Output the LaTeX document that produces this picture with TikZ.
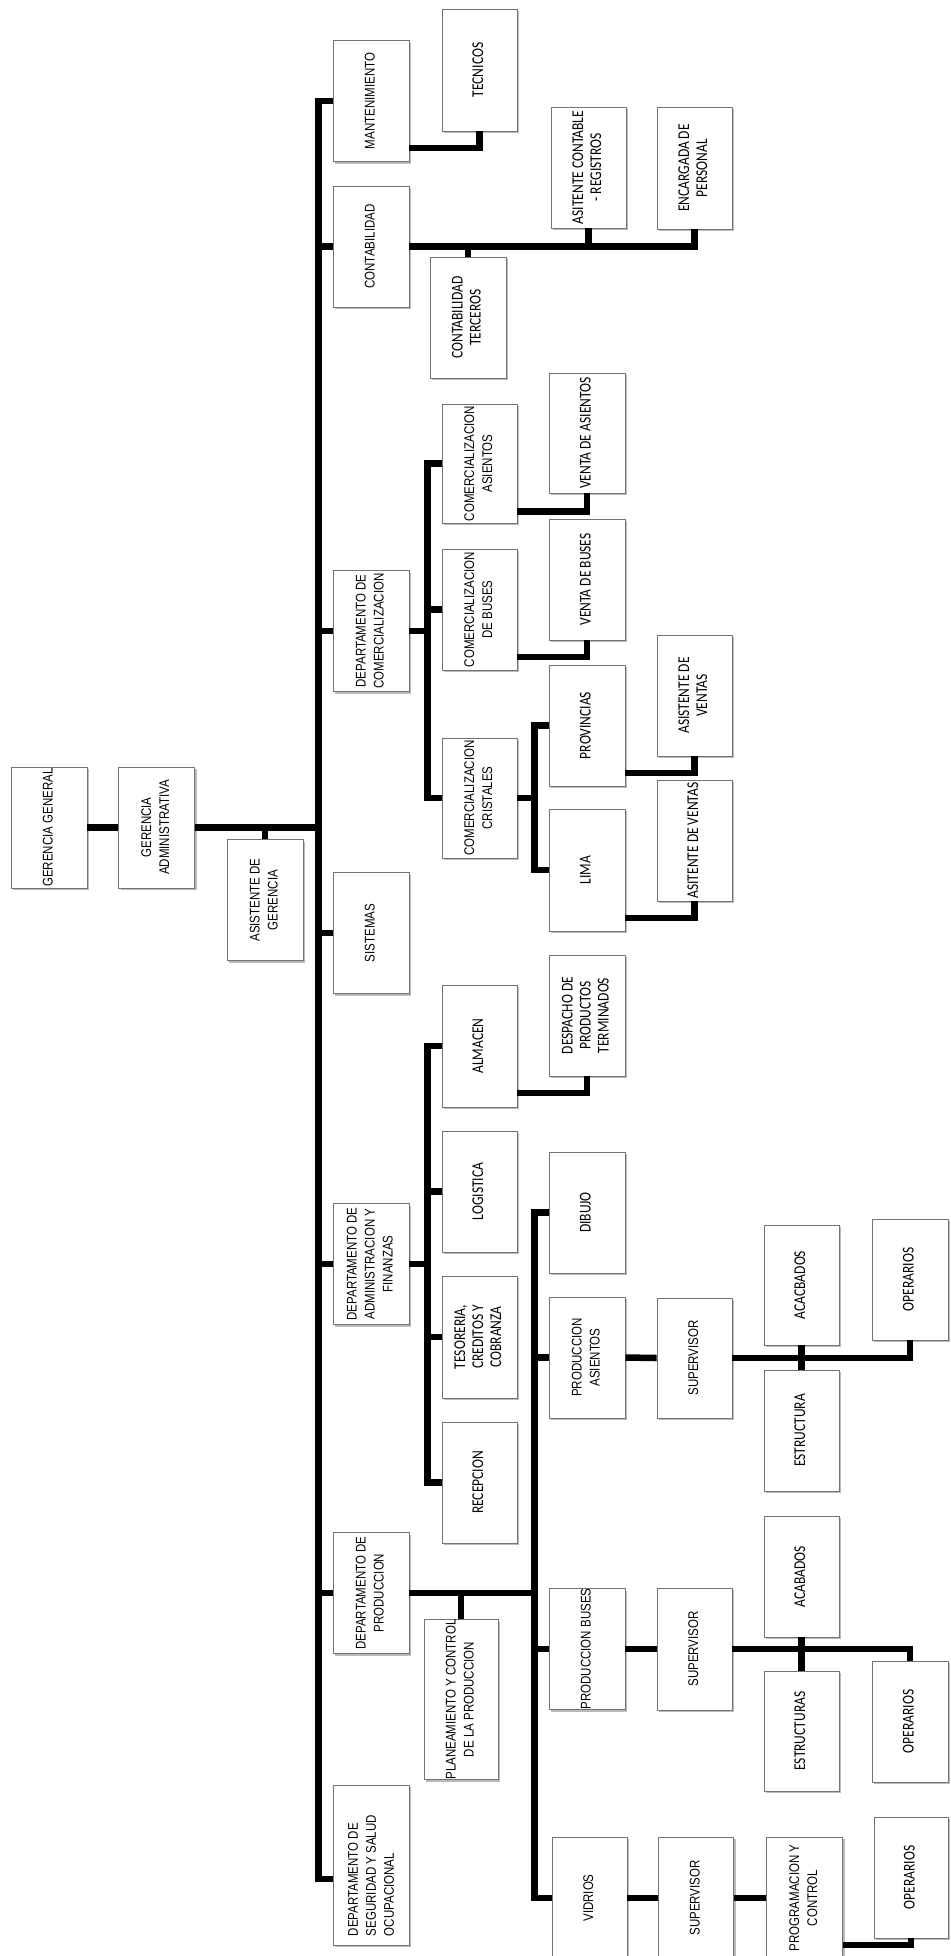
\documentclass[tikz,border=0pt]{standalone}
\usepackage{fontspec}
\setmainfont{Liberation Sans}
\newfontfamily\calib{Carlito}
\usetikzlibrary{shadows}
\newcommand\rt[1]{\rotatebox{90}{\scalebox{1}[1.22]{\begin{tabular}{@{}c@{}}#1\end{tabular}}}}
\begin{document}
\begin{tikzpicture}[x=1pt,y=-1pt,
  box/.style={draw=black!55, line width=0.9pt, fill=white, minimum width=76pt,
    minimum height=121pt, inner sep=0pt, anchor=center,
    font=\fontsize{11.5}{14.8}\selectfont,
    drop shadow={shadow xshift=2.2pt, shadow yshift=-2.2pt, fill=black!45, opacity=0.6}},
  cbox/.style={box, font=\calib\fontsize{13.5}{14.8}\selectfont},
  conn/.style={line width=6.5pt, line join=miter, black}]
\useasboundingbox (0,0) rectangle (950,1956);
\fill[white] (0,0) rectangle (950,1956);

% level 0/1
\node[box] (gg) at (49,827.5) {\rt{GERENCIA GENERAL}};
\node[box] (ga) at (156.5,827.5) {\rt{GERENCIA\\ADMINISTRATIVA}};
\node[box] (ag) at (265,900) {\rt{ASISTENTE DE\\GERENCIA}};

% level 2
\node[box] (mant) at (371,101) {\rt{MANTENIMIENTO}};
\node[box] (cont) at (371,246.5) {\rt{CONTABILIDAD}};
\node[box] (dcom) at (371,631) {\rt{DEPARTAMENTO DE\\COMERCIALIZACION}};
\node[box] (sist) at (371,933) {\rt{SISTEMAS}};
\node[box] (daf) at (371,1264) {\rt{DEPARTAMENTO DE\\ADMINISTRACION Y\\FINANZAS}};
\node[box] (dprod) at (371,1593) {\rt{DEPARTAMENTO DE\\PRODUCCION}};
\node[box, minimum height=160pt] (dseg) at (371,1865)
  {\rotatebox{90}{\scalebox{1}[1.22]{\parbox{142pt}{\raggedright DEPARTAMENTO DE\\SEGURIDAD Y SALUD\\OCUPACIONAL}}}};

% mantenimiento / contabilidad
\node[cbox, minimum width=75pt, minimum height=122pt] (tec) at (479.5,70) {\rt{TECNICOS}};
\node[cbox] (cterc) at (468,317.5) {\rt{CONTABILIDAD\\TERCEROS}};
\node[cbox, minimum width=75pt] (asit) at (588.5,167.5) {\rt{ASITENTE CONTABLE\\- REGISTROS}};
\node[cbox, minimum width=75pt, minimum height=122pt] (enc) at (694.5,168) {\rt{ENCARGADA DE\\PERSONAL}};

% comercializacion
\node[box, minimum width=75pt, minimum height=119pt] (casi) at (479.5,463.5) {\rt{COMERCIALIZACION\\ASIENTOS}};
\node[box, minimum width=75pt] (cbus) at (479.5,609.5) {\rt{COMERCIALIZACION\\DE BUSES}};
\node[box, minimum width=75pt, minimum height=120pt] (ccri) at (479.5,798) {\rt{COMERCIALIZACION\\CRISTALES}};
\node[cbox, minimum height=120pt] (vasi) at (587,433) {\rt{VENTA DE ASIENTOS}};
\node[cbox] (vbus) at (587,579.5) {\rt{VENTA DE BUSES}};
\node[cbox] (prov) at (587,725.5) {\rt{PROVINCIAS}};
\node[cbox, minimum height=122pt] (lima) at (587,870) {\rt{LIMA}};
\node[cbox, minimum width=75pt] (asv1) at (694.5,695.5) {\rt{ASISTENTE DE\\VENTAS}};
\node[cbox, minimum width=75pt] (asv2) at (694.5,840.5) {\rt{ASITENTE DE VENTAS}};

% administracion y finanzas
\node[cbox, minimum width=75pt, minimum height=122pt] (alm) at (479.5,1046) {\rt{ALMACEN}};
\node[cbox, minimum width=75pt] (log) at (479.5,1191.5) {\rt{LOGISTICA}};
\node[cbox, minimum width=75pt, minimum height=122pt] (tes) at (479.5,1337) {\rt{TESORERIA,\\CREDITOS Y\\COBRANZA}};
\node[cbox, minimum width=75pt] (rec) at (479.5,1482.5) {\rt{RECEPCION}};
\node[cbox] (desp) at (587,1015.5) {\rt{DESPACHO DE\\PRODUCTOS\\TERMINADOS}};

% produccion
\node[box, minimum width=74pt, minimum height=159pt] (pcp) at (461,1699.5) {\rt{PLANEAMIENTO Y CONTROL\\DE LA PRODUCCION}};
\node[cbox] (dib) at (587,1212.5) {\rt{DIBUJO}};
\node[box] (pasi) at (587,1357.5) {\rt{PRODUCCION\\ASIENTOS}};
\node[box, minimum height=120pt] (pbus) at (587,1649) {\rt{PRODUCCION BUSES}};
\node[box, minimum width=75pt, minimum height=122pt] (vid) at (589.5,1898) {\rt{VIDRIOS}};
\node[box, minimum width=75pt, minimum height=120pt] (sup1) at (694.5,1358) {\rt{SUPERVISOR}};
\node[box, minimum width=75pt, minimum height=122pt] (sup2) at (694.5,1649) {\rt{SUPERVISOR}};
\node[box, minimum width=75pt, minimum height=122pt] (sup3) at (696,1898) {\rt{SUPERVISOR}};
\node[cbox, minimum width=75pt, minimum height=120pt] (acac) at (801.5,1285) {\rt{ACACBADOS}};
\node[cbox, minimum width=75pt] (estr) at (801.5,1430.5) {\rt{ESTRUCTURA}};
\node[cbox, minimum width=75pt] (acab) at (801.5,1576.5) {\rt{ACABADOS}};
\node[cbox, minimum width=75pt, minimum height=120pt] (estrs) at (801.5,1731) {\rt{ESTRUCTURAS}};
\node[box, minimum width=76pt, minimum height=122pt] (prog) at (804.5,1898) {\rt{PROGRAMACION Y\\CONTROL}};
\node[cbox] (op1) at (910,1279.5) {\rt{OPERARIOS}};
\node[cbox] (op2) at (910,1721.5) {\rt{OPERARIOS}};
\node[cbox, minimum width=74pt] (op3) at (911,1877.5) {\rt{OPERARIOS}};

% spines
\coordinate (mbot) at (318.5,1879);
\coordinate (cx) at (427.5,631);
\coordinate (lx) at (534.5,798);
\coordinate (ax) at (427.5,1264);
\coordinate (px) at (534.5,1593);

% main connectors
\draw[conn] (gg.east) -- (ga.west);
\draw[conn] (ga.east) -- (ga.east -| mbot);
\draw[conn] (ag.north) -- (ag.north |- ga.east);
\draw[conn] (mant.west) -| (mbot) -- ([yshift=-14pt]dseg.west);
\draw[conn] (cont.west) -- (cont.west -| mbot);
\draw[conn] (dcom.west) -- (dcom.west -| mbot);
\draw[conn] (sist.west) -- (sist.west -| mbot);
\draw[conn] (daf.west) -- (daf.west -| mbot);
\draw[conn] (dprod.west) -- (dprod.west -| mbot);

% mantenimiento / contabilidad
\draw[conn] ([yshift=-47pt]mant.east) -| (tec.south);
\draw[conn] (cont.east) -| (enc.south);
\draw[conn] (asit.south) -- (asit.south |- cont.east);
\draw[conn] (cterc.north) -- (cterc.north |- cont.east);

% comercializacion
\draw[conn] (dcom.east) -- (cx);
\draw[conn] (casi.west) -| (cx |- ccri.west) -- (ccri.west);
\draw[conn] (cbus.west) -- (cbus.west -| cx);
\draw[conn] ([yshift=-48pt]casi.east) -| (vasi.south);
\draw[conn] ([yshift=-47.5pt]cbus.east) -| (vbus.south);
\draw[conn] (ccri.east) -- (lx);
\draw[conn] (prov.west) -| (lx |- lima.west) -- (lima.west);
\draw[conn] ([yshift=-47.5pt]prov.east) -| (asv1.south);
\draw[conn] ([yshift=-48pt]lima.east) -| (asv2.south);

% administracion
\draw[conn] (daf.east) -- (ax);
\draw[conn] (alm.west) -| (ax |- rec.west) -- (rec.west);
\draw[conn] (log.west) -- (log.west -| ax);
\draw[conn] (tes.west) -- (tes.west -| ax);
\draw[conn] ([yshift=-47pt]alm.east) -| (desp.south);

% produccion
\draw[conn] (dprod.east) -- (px);
\draw[conn] (pcp.north) -- (pcp.north |- dprod.east);
\draw[conn] (dib.west) -| (px |- vid.west) -- (vid.west);
\draw[conn] (pasi.west) -- (pasi.west -| px);
\draw[conn] (pbus.west) -- (pbus.west -| px);
\draw[conn] (pasi.east) -- (sup1.west);
\draw[conn] (sup1.east) -| (op1.south);
\draw[conn] (acac.south) -- (estr.north);
\draw[conn] (pbus.east) -- (sup2.west);
\draw[conn] (sup2.east) -| (op2.north);
\draw[conn] (acab.south) -- (estrs.north);
\draw[conn] (vid.east) -- (sup3.west);
\draw[conn] (sup3.east) -- (prog.west);
\draw[conn] ([yshift=-47pt]prog.east) -| (op3.south);
\end{tikzpicture}
\end{document}
